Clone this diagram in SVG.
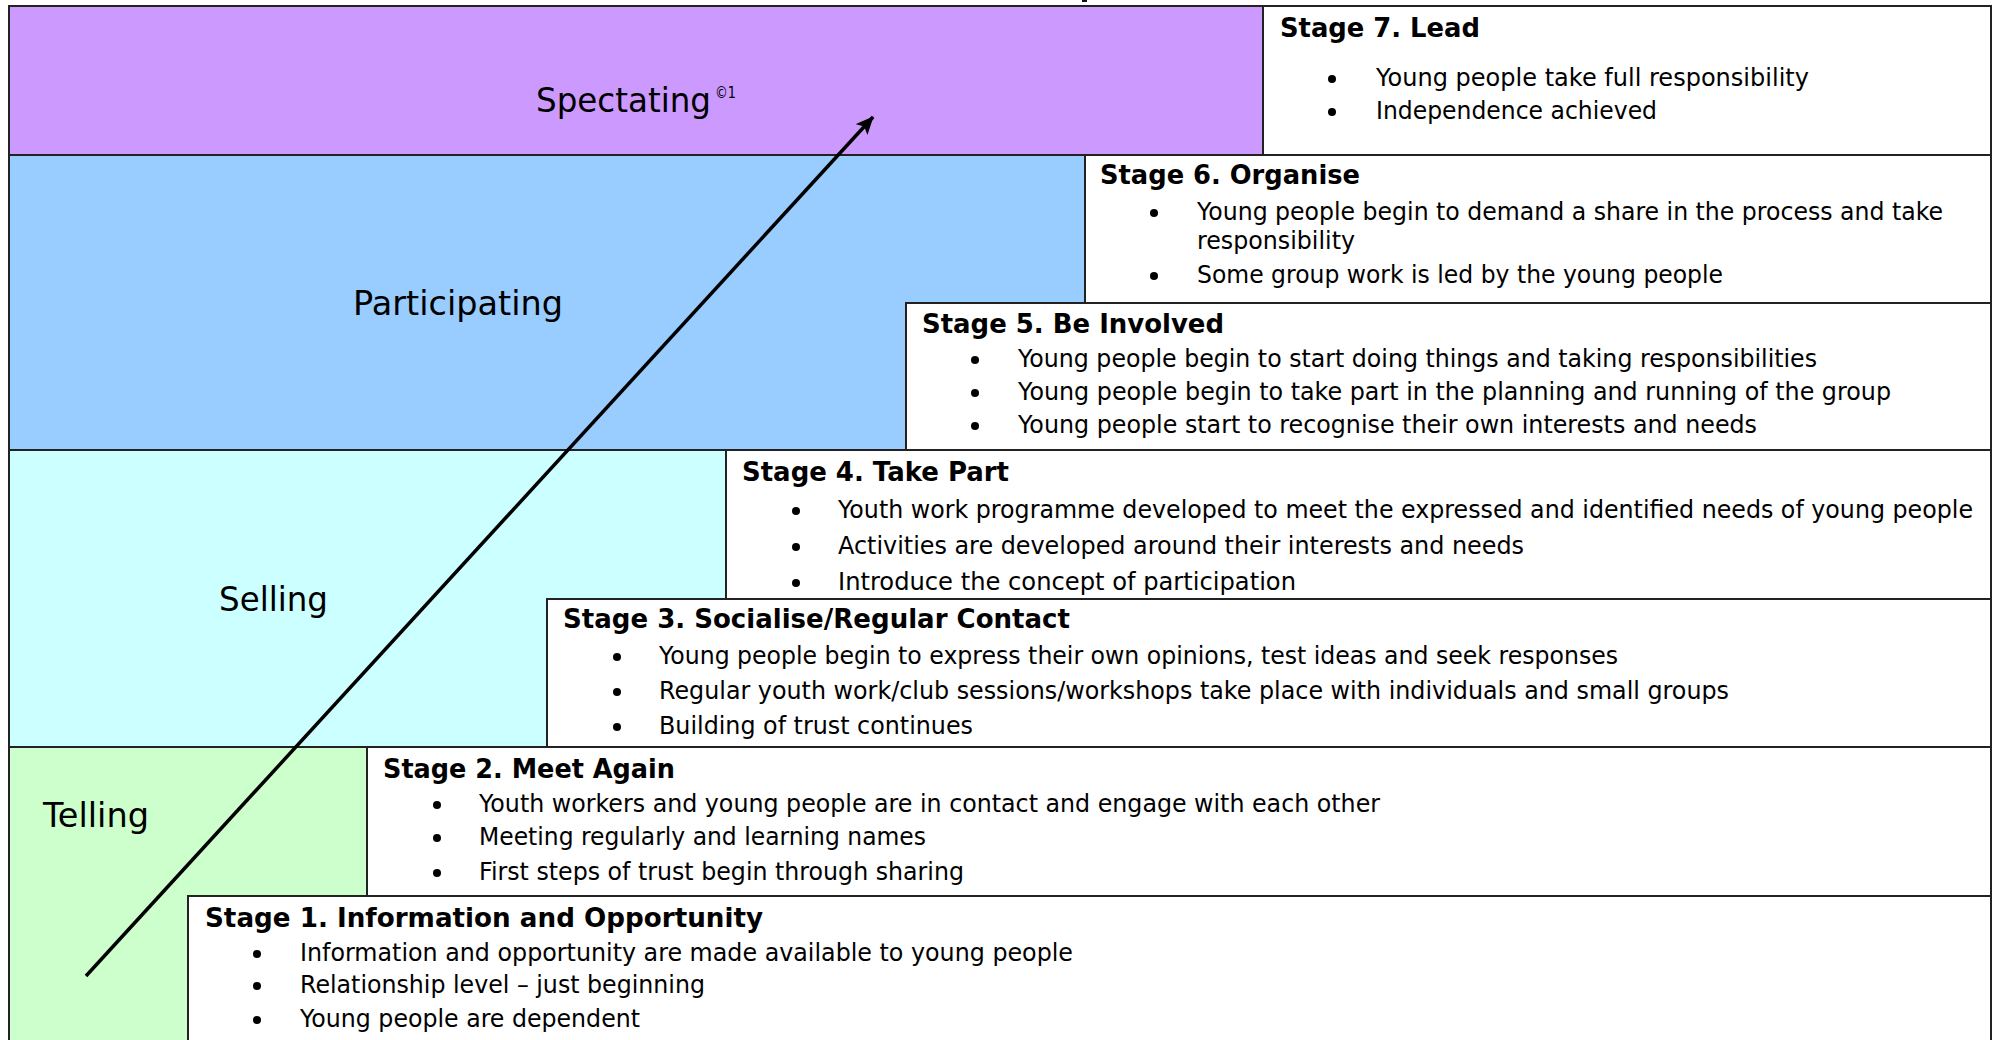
<svg xmlns="http://www.w3.org/2000/svg" width="1995" height="1040" viewBox="0 0 1995 1040">
<style>
.band{stroke:#222;stroke-width:2}
.box{fill:#fff;stroke:#222;stroke-width:2}
.h{font-family:"DejaVu Sans","Liberation Sans",sans-serif;font-weight:bold;font-size:27px;fill:#000}
.t{font-family:"DejaVu Sans","Liberation Sans",sans-serif;font-size:25px;fill:#000}
.lab{font-family:"DejaVu Sans","Liberation Sans",sans-serif;font-size:34px;fill:#000}
.sup{font-family:"DejaVu Sans","Liberation Sans",sans-serif;font-size:15px;fill:#000}
.b{fill:#000}
</style>
<defs>
<marker id="ah" viewBox="0 0 18 16" refX="17" refY="8" markerWidth="18" markerHeight="16" markerUnits="userSpaceOnUse" orient="auto">
<path d="M0,0 L18,8 L0,16 L4,8 Z" fill="#000"/>
</marker>
</defs>
<rect width="1995" height="1040" fill="#fff"/>
<rect x="1082" y="0" width="5" height="2" fill="#111"/>

<g id="band-spectating">
<rect class="band" x="9" y="6" width="1982" height="149" fill="#CC99FF"/>
<text class="lab" x="536" y="112" textLength="175" lengthAdjust="spacingAndGlyphs">Spectating</text>
<text class="sup" x="715" y="98" textLength="21" lengthAdjust="spacingAndGlyphs">©1</text>
</g>
<g id="band-participating">
<rect class="band" x="9" y="155" width="1982" height="295" fill="#99CCFF"/>
<text class="lab" x="353" y="315" textLength="210" lengthAdjust="spacingAndGlyphs">Participating</text>
</g>
<g id="band-selling">
<rect class="band" x="9" y="450" width="1982" height="297" fill="#CCFFFF"/>
<text class="lab" x="219" y="611" textLength="109" lengthAdjust="spacingAndGlyphs">Selling</text>
</g>
<g id="band-telling">
<rect class="band" x="9" y="747" width="1982" height="300" fill="#CCFFCC"/>
<text class="lab" x="43" y="827" textLength="106" lengthAdjust="spacingAndGlyphs">Telling</text>
</g>

<g id="stage7">
<rect class="box" x="1263" y="6" width="728" height="149"/>
<text class="h" x="1280" y="37" textLength="200" lengthAdjust="spacingAndGlyphs">Stage 7. Lead</text>
<circle class="b" cx="1332" cy="79" r="4"/>
<text class="t" x="1376" y="86" textLength="433" lengthAdjust="spacingAndGlyphs">Young people take full responsibility</text>
<circle class="b" cx="1332" cy="112" r="4"/>
<text class="t" x="1376" y="119" textLength="281" lengthAdjust="spacingAndGlyphs">Independence achieved</text>
</g>

<g id="stage6">
<rect class="box" x="1085" y="155" width="906" height="148"/>
<text class="h" x="1100" y="184" textLength="260" lengthAdjust="spacingAndGlyphs">Stage 6. Organise</text>
<circle class="b" cx="1154" cy="213" r="4"/>
<text class="t" x="1197" y="220" textLength="746" lengthAdjust="spacingAndGlyphs">Young people begin to demand a share in the process and take</text>
<text class="t" x="1197" y="249" textLength="158" lengthAdjust="spacingAndGlyphs">responsibility</text>
<circle class="b" cx="1154" cy="276" r="4"/>
<text class="t" x="1197" y="283" textLength="526" lengthAdjust="spacingAndGlyphs">Some group work is led by the young people</text>
</g>

<g id="stage5">
<rect class="box" x="906" y="303" width="1085" height="147"/>
<text class="h" x="922" y="333" textLength="302" lengthAdjust="spacingAndGlyphs">Stage 5. Be Involved</text>
<circle class="b" cx="975" cy="360" r="4"/>
<text class="t" x="1018" y="367" textLength="799" lengthAdjust="spacingAndGlyphs">Young people begin to start doing things and taking responsibilities</text>
<circle class="b" cx="975" cy="393" r="4"/>
<text class="t" x="1018" y="400" textLength="873" lengthAdjust="spacingAndGlyphs">Young people begin to take part in the planning and running of the group</text>
<circle class="b" cx="975" cy="426" r="4"/>
<text class="t" x="1018" y="433" textLength="739" lengthAdjust="spacingAndGlyphs">Young people start to recognise their own interests and needs</text>
</g>

<g id="stage4">
<rect class="box" x="726" y="450" width="1265" height="149"/>
<text class="h" x="742" y="481" textLength="267" lengthAdjust="spacingAndGlyphs">Stage 4. Take Part</text>
<circle class="b" cx="796" cy="511" r="4"/>
<text class="t" x="838" y="518" textLength="1135" lengthAdjust="spacingAndGlyphs">Youth work programme developed to meet the expressed and identified needs of young people</text>
<circle class="b" cx="796" cy="547" r="4"/>
<text class="t" x="838" y="554" textLength="686" lengthAdjust="spacingAndGlyphs">Activities are developed around their interests and needs</text>
<circle class="b" cx="796" cy="583" r="4"/>
<text class="t" x="838" y="590" textLength="458" lengthAdjust="spacingAndGlyphs">Introduce the concept of participation</text>
</g>

<g id="stage3">
<rect class="box" x="547" y="599" width="1444" height="148"/>
<text class="h" x="563" y="628" textLength="507" lengthAdjust="spacingAndGlyphs">Stage 3. Socialise/Regular Contact</text>
<circle class="b" cx="617" cy="657" r="4"/>
<text class="t" x="659" y="664" textLength="959" lengthAdjust="spacingAndGlyphs">Young people begin to express their own opinions, test ideas and seek responses</text>
<circle class="b" cx="617" cy="692" r="4"/>
<text class="t" x="659" y="699" textLength="1070" lengthAdjust="spacingAndGlyphs">Regular youth work/club sessions/workshops take place with individuals and small groups</text>
<circle class="b" cx="617" cy="727" r="4"/>
<text class="t" x="659" y="734" textLength="314" lengthAdjust="spacingAndGlyphs">Building of trust continues</text>
</g>

<g id="stage2">
<rect class="box" x="367" y="747" width="1624" height="149"/>
<text class="h" x="383" y="778" textLength="292" lengthAdjust="spacingAndGlyphs">Stage 2. Meet Again</text>
<circle class="b" cx="437" cy="805" r="4"/>
<text class="t" x="479" y="812" textLength="901" lengthAdjust="spacingAndGlyphs">Youth workers and young people are in contact and engage with each other</text>
<circle class="b" cx="437" cy="838" r="4"/>
<text class="t" x="479" y="845" textLength="447" lengthAdjust="spacingAndGlyphs">Meeting regularly and learning names</text>
<circle class="b" cx="437" cy="873" r="4"/>
<text class="t" x="479" y="880" textLength="485" lengthAdjust="spacingAndGlyphs">First steps of trust begin through sharing</text>
</g>

<g id="stage1">
<rect class="box" x="188" y="896" width="1803" height="151"/>
<text class="h" x="205" y="927" textLength="558" lengthAdjust="spacingAndGlyphs">Stage 1. Information and Opportunity</text>
<circle class="b" cx="257" cy="954" r="4"/>
<text class="t" x="300" y="961" textLength="773" lengthAdjust="spacingAndGlyphs">Information and opportunity are made available to young people</text>
<circle class="b" cx="257" cy="986" r="4"/>
<text class="t" x="300" y="993" textLength="405" lengthAdjust="spacingAndGlyphs">Relationship level – just beginning</text>
<circle class="b" cx="257" cy="1020" r="4"/>
<text class="t" x="300" y="1027" textLength="340" lengthAdjust="spacingAndGlyphs">Young people are dependent</text>
</g>

<g id="connectors">
<line x1="86" y1="976" x2="873" y2="117" stroke="#000" stroke-width="3.5" marker-end="url(#ah)"/>
</g>
</svg>
